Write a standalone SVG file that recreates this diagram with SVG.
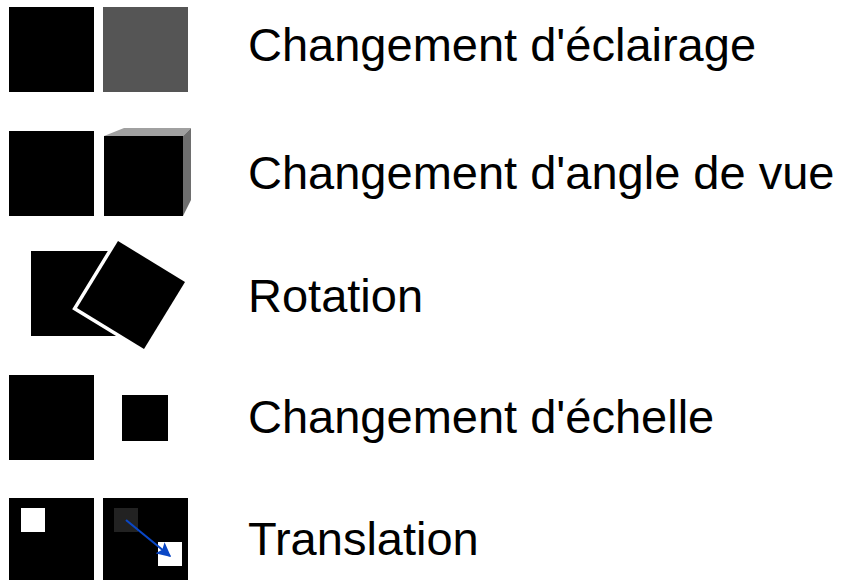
<svg xmlns="http://www.w3.org/2000/svg" width="851" height="580" viewBox="0 0 851 580">
<style>
.lbl{font-family:"Liberation Sans",Arial,sans-serif;font-size:47px;fill:#000}
.blk{fill:#000}
</style>
<defs>
<marker id="ah" viewBox="0 0 10 10" refX="9" refY="5" markerWidth="6.5" markerHeight="6.5" orient="auto" markerUnits="strokeWidth">
<path d="M0,0 L10,5 L0,10 L2,5 z" fill="#0a47c6"/>
</marker>
</defs>
<rect width="851" height="580" fill="#fff"/>
<g id="eclairage">
<rect class="blk" x="9" y="7" width="85" height="85"/>
<rect x="103" y="7" width="85" height="85" fill="#555"/>
<text class="lbl" x="248" y="61">Changement d'éclairage</text>
</g>
<g id="angle">
<rect class="blk" x="9" y="131" width="85" height="85"/>
<polygon points="104,136 124,128 191,128 183,136" fill="#a0a0a0"/>
<polygon points="183,136 191,128 191,200 183,216" fill="#6e6e6e"/>
<rect class="blk" x="104" y="136" width="79" height="80"/>
<text class="lbl" x="248" y="189">Changement d'angle de vue</text>
</g>
<g id="rotation">
<rect class="blk" x="31" y="251" width="85" height="85"/>
<polygon points="118,241 185,282 144,349 77,308" fill="#000" stroke="#fff" stroke-width="7" paint-order="stroke" stroke-linejoin="miter"/>
<text class="lbl" x="248" y="312">Rotation</text>
</g>
<g id="echelle">
<rect class="blk" x="9" y="375" width="85" height="85"/>
<rect class="blk" x="122" y="395" width="46" height="46"/>
<text class="lbl" x="248" y="433">Changement d'échelle</text>
</g>
<g id="translation">
<rect class="blk" x="9" y="498" width="85" height="85"/>
<rect x="21" y="508" width="24" height="24" fill="#fff"/>
<rect class="blk" x="103" y="498" width="85" height="85"/>
<rect x="114" y="508" width="24" height="24" fill="#222"/>
<rect x="158" y="542" width="24" height="24" fill="#fff"/>
<text class="lbl" x="248" y="555">Translation</text>
</g>
<g id="connectors">
<line x1="126" y1="520" x2="170" y2="556" stroke="#0a47c6" stroke-width="2.2" marker-end="url(#ah)"/>
</g>
</svg>
